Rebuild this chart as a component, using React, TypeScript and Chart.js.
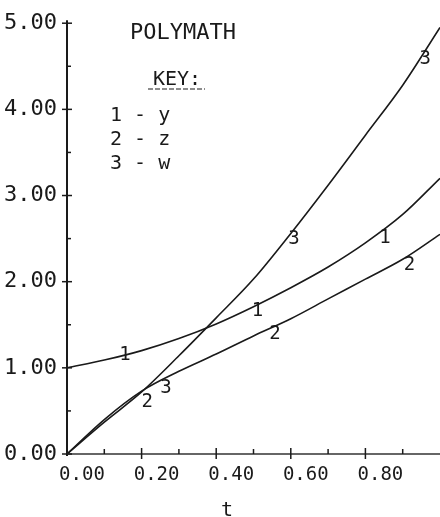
import React, { useEffect, useRef } from 'react';
import { Chart, registerables } from 'chart.js';

Chart.register(...registerables);

// ---- data ----
const tValues = [0, 0.1, 0.2, 0.3, 0.4, 0.5, 0.6, 0.7, 0.8, 0.9, 1.0];
const ySeries = [1.0, 1.09, 1.2, 1.34, 1.51, 1.71, 1.93, 2.17, 2.45, 2.78, 3.2];
const zSeries = [0, 0.4, 0.73, 0.96, 1.16, 1.37, 1.57, 1.8, 2.03, 2.26, 2.55];
const wSeries = [0, 0.37, 0.72, 1.14, 1.58, 2.03, 2.56, 3.12, 3.7, 4.28, 4.95];

const seriesKeys = ['1', '2', '3'];
const seriesNames = ['y', 'z', 'w'];
// t positions of the curve-number markers
const markerT1 = [0.15, 0.505, 0.847];
const markerT2 = [0.21, 0.552, 0.913];
const markerT3 = [0.26, 0.603, 0.955];

const yMajorTicks = [0, 1, 2, 3, 4, 5];
const yMinorTicks = [0.5, 1.5, 2.5, 3.5, 4.5];
const xMajorTicks = [0.2, 0.4, 0.6, 0.8];
const xMinorTicks = [0.1, 0.3, 0.5, 0.7, 0.9];

const titleText = 'POLYMATH';
const keyTitle = 'KEY:';
const xAxisTitle = 't';

// styling: vertical pixel nudges of the curve-number markers
const MARKER_DY = [
  [-10, -4, -2],
  [4, -3, -1],
  [8, -2, -4],
];

const FONT = "'DejaVu Sans Mono', 'Liberation Mono', monospace";
const INK = '#1a1a1a';

const decorPlugin = {
  id: 'decor',
  afterDatasetsDraw(chart: any) {
    const ctx = chart.ctx;
    const xs = chart.scales.x;
    const ys = chart.scales.y;
    const left = xs.getPixelForValue(0);
    const bottom = ys.getPixelForValue(0);
    ctx.save();
    // axes
    ctx.strokeStyle = INK;
    ctx.lineWidth = 2;
    ctx.beginPath();
    ctx.moveTo(left, ys.getPixelForValue(5) - 3);
    ctx.lineTo(left, bottom + 2);
    ctx.stroke();
    ctx.lineWidth = 1.5;
    ctx.strokeStyle = '#333';
    ctx.beginPath();
    ctx.moveTo(left, bottom);
    ctx.lineTo(chart.width, bottom);
    ctx.stroke();
    // y ticks
    ctx.strokeStyle = INK;
    ctx.lineWidth = 1.5;
    yMajorTicks.forEach((v) => {
      const p = ys.getPixelForValue(v);
      ctx.beginPath();
      ctx.moveTo(left - 5, p);
      ctx.lineTo(left + 5, p);
      ctx.stroke();
    });
    yMinorTicks.forEach((v) => {
      const p = ys.getPixelForValue(v);
      ctx.beginPath();
      ctx.moveTo(left, p);
      ctx.lineTo(left + 4, p);
      ctx.stroke();
    });
    // x ticks
    xMajorTicks.forEach((v) => {
      const p = xs.getPixelForValue(v);
      ctx.beginPath();
      ctx.moveTo(p, bottom - 6);
      ctx.lineTo(p, bottom + 5);
      ctx.stroke();
    });
    xMinorTicks.forEach((v) => {
      const p = xs.getPixelForValue(v);
      ctx.beginPath();
      ctx.moveTo(p, bottom - 5);
      ctx.lineTo(p, bottom);
      ctx.stroke();
    });

    // curve-number markers
    const markers = [markerT1, markerT2, markerT3];
    ctx.fillStyle = INK;
    ctx.font = `19px ${FONT}`;
    ctx.textAlign = 'center';
    ctx.textBaseline = 'top';
    markers.forEach((list, di) => {
      const meta = chart.getDatasetMeta(di);
      list.forEach((t, mi) => {
        const px = xs.getPixelForValue(t);
        const pt = meta.dataset.interpolate({ x: px }, 'x');
        if (!pt) return;
        ctx.fillText(seriesKeys[di], px + 2, pt.y + MARKER_DY[di][mi]);
      });
    });

    // title and key
    ctx.textBaseline = 'alphabetic';
    ctx.font = `22px ${FONT}`;
    ctx.textAlign = 'center';
    ctx.fillText(titleText, 183, 39);
    ctx.font = `20px ${FONT}`;
    ctx.fillText(keyTitle, 177, 85);
    ctx.lineWidth = 1.2;
    ctx.setLineDash([5, 2]);
    ctx.beginPath();
    ctx.moveTo(148, 89);
    ctx.lineTo(205, 89);
    ctx.stroke();
    ctx.setLineDash([]);
    ctx.textAlign = 'left';
    seriesKeys.forEach((k, i) => {
      ctx.fillText(`${k} - ${seriesNames[i]}`, 110, 121 + i * 24);
    });

    // x axis title
    ctx.textAlign = 'center';
    ctx.fillText(xAxisTitle, 227, 516);
    ctx.restore();
  },
};

export default function App() {
  const canvasRef = useRef<HTMLCanvasElement | null>(null);

  useEffect(() => {
    document.body.style.margin = '0';
    const canvas = canvasRef.current;
    if (!canvas) return;
    const mk = (arr: number[]) => tValues.map((t, i) => ({ x: t, y: arr[i] }));
    const chart = new Chart(canvas, {
      type: 'line',
      data: {
        datasets: [ySeries, zSeries, wSeries].map((arr, i) => ({
          label: `${seriesKeys[i]} - ${seriesNames[i]}`,
          data: mk(arr),
          borderColor: INK,
          borderWidth: 1.6,
          pointRadius: 0,
          fill: false,
          cubicInterpolationMode: 'monotone' as const,
        })),
      },
      options: {
        responsive: false,
        animation: false,
        devicePixelRatio: 1,
        layout: { padding: { top: 19, right: 0, left: 0, bottom: 0 } },
        plugins: { legend: { display: false }, tooltip: { enabled: false } },
        scales: {
          x: {
            type: 'linear',
            min: 0,
            max: 1,
            grid: { display: false, drawTicks: false },
            border: { display: false },
            afterFit: (s: any) => {
              s.height = 63;
              s.paddingRight = 0;
              s.paddingLeft = 0;
            },
            ticks: {
              stepSize: 0.2,
              padding: 10,
              labelOffset: 15,
              maxRotation: 0,
              autoSkip: false,
              color: INK,
              font: { family: FONT, size: 19 },
              callback: (v: any) => (Number(v) < 0.99 ? Number(v).toFixed(2) : ''),
            },
          },
          y: {
            type: 'linear',
            min: 0,
            max: 5,
            grid: { display: false, drawTicks: false },
            border: { display: false },
            afterFit: (s: any) => {
              s.width = 67;
            },
            ticks: {
              stepSize: 1,
              padding: 10,
              color: INK,
              font: { family: FONT, size: 22 },
              callback: (v: any) => Number(v).toFixed(2),
            },
          },
        },
      },
      plugins: [decorPlugin],
    });
    return () => chart.destroy();
  }, []);

  return (
    <div style={{ position: 'fixed', left: 0, top: 0, width: 440, height: 517, background: '#fff' }}>
      <canvas ref={canvasRef} width={440} height={517} style={{ display: 'block' }} />
    </div>
  );
}
